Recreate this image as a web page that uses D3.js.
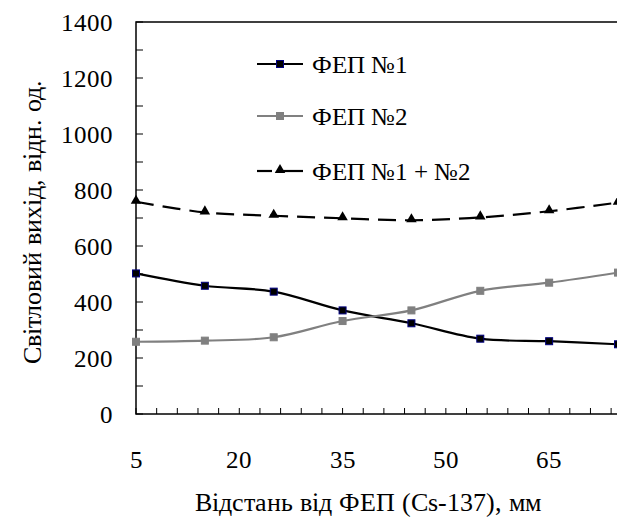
<!DOCTYPE html>
<html>
<head>
<meta charset="utf-8">
<script src="https://cdn.jsdelivr.net/npm/d3@7"></script>
<style>
  @font-face { font-family: "ChartSerif"; src: local("Liberation Serif"), local("LiberationSerif"), local("Liberation Serif Regular"), local("LiberationSerif-Regular"); }
  svg text { font-family: "ChartSerif", "Liberation Serif", "Times New Roman", serif !important; }
</style>
</head>
<body style="margin:0;background:#fff">
<svg id="light-output" width="617" height="518" style="display:block"></svg>
<script>
// Distance from the photomultiplier, mm
const distances = [5, 15, 25, 35, 45, 55, 65, 75];
// Light output, relative units
const pmt1 = [502, 458, 437, 370, 324, 269, 260, 249];
const pmt2 = [258, 262, 274, 332, 370, 440, 469, 505];
const pmtSum = [758, 720, 708, 699, 692, 702, 724, 755];

const xTickValues = [5, 20, 35, 50, 65];
const yTickValues = [0, 200, 400, 600, 800, 1000, 1200, 1400];

const seriesNames = ["ФЕП №1", "ФЕП №2", "ФЕП №1 + №2"];
const xTitle = "Відстань від ФЕП (Cs-137), мм";
const yTitle = "Світловий вихід, відн. од.";

const serifStack = '"ChartSerif", "Liberation Serif", "Times New Roman", serif';

const svg = d3.select("#light-output");
const plot = { left: 136, right: 618, top: 22, bottom: 414 };

const x = d3.scaleLinear().domain([5, 75]).range([plot.left, plot.right]);
const y = d3.scaleLinear().domain([0, 1400]).range([plot.bottom, plot.top]);

// all text lives in one group with the serif face set on it
const textLayer = svg.append("g").attr("class", "labels")
  .attr("font-family", "Liberation Serif")
  .style("font-family", serifStack, "important");

function label(g, txt, size) {
  return g.append("text")
    .attr("font-size", size)
    .attr("font-family", "Liberation Serif")
    .style("font-family", serifStack, "important")
    .attr("fill", "#000")
    .text(txt);
}

// frame of the plot area
svg.append("rect")
  .attr("x", plot.left).attr("y", plot.top)
  .attr("width", plot.right - plot.left).attr("height", plot.bottom - plot.top)
  .attr("fill", "none").attr("stroke", "#000").attr("stroke-width", 1.5);

// Y ticks every 100, pointing inward
svg.append("g").selectAll("line").data(d3.range(0, 1401, 100)).join("line")
  .attr("x1", plot.left).attr("x2", plot.left + 7)
  .attr("y1", d => y(d)).attr("y2", d => y(d))
  .attr("stroke", "#000").attr("stroke-width", 1);

// X ticks every 3 mm, pointing upward
svg.append("g").selectAll("line").data(d3.range(5, 76, 3)).join("line")
  .attr("x1", d => x(d)).attr("x2", d => x(d))
  .attr("y1", plot.bottom).attr("y2", plot.bottom - 6)
  .attr("stroke", "#000").attr("stroke-width", 1);

yTickValues.forEach(v => {
  label(textLayer, v, 25).attr("x", 113).attr("y", y(v) + 8.5).attr("text-anchor", "end");
});
xTickValues.forEach(v => {
  label(textLayer, v, 25).attr("x", x(v)).attr("y", 468).attr("text-anchor", "middle");
});

// axis titles
label(textLayer, xTitle, 25.5).attr("x", 368).attr("y", 511).attr("text-anchor", "middle");
label(textLayer, yTitle, 25.5).attr("transform", "translate(41,222) rotate(-90)").attr("text-anchor", "middle");

const line = d3.line()
  .x((d, i) => x(distances[i]))
  .y(d => y(d))
  .curve(d3.curveCatmullRom.alpha(0.5));

const series = [
  { name: seriesNames[0], values: pmt1, color: "#000", dash: null, marker: "square", fill: "#000", edge: "#000080" },
  { name: seriesNames[1], values: pmt2, color: "#808080", dash: null, marker: "square", fill: "#808080", edge: "#808080" },
  { name: seriesNames[2], values: pmtSum, color: "#000", dash: "18,9", marker: "triangle", fill: "#000", edge: "#000" }
];

svg.append("defs").append("clipPath").attr("id", "plotclip")
  .append("rect").attr("x", plot.left - 6).attr("y", plot.top).attr("width", plot.right - plot.left + 12).attr("height", plot.bottom - plot.top);

const tri = d3.symbol().type(d3.symbolTriangle).size(48);

function drawMarker(g, s, cx, cy) {
  if (s.marker === "square") {
    g.append("rect")
      .attr("x", cx - 3.5).attr("y", cy - 3.5).attr("width", 7).attr("height", 7)
      .attr("fill", s.fill).attr("stroke", s.edge).attr("stroke-width", 1);
  } else {
    g.append("path").attr("d", tri())
      .attr("transform", `translate(${cx},${cy - 1})`)
      .attr("fill", s.fill);
  }
}

const marks = svg.append("g").attr("clip-path", "url(#plotclip)");
series.forEach(s => {
  marks.append("path")
    .datum(s.values)
    .attr("d", line)
    .attr("fill", "none")
    .attr("stroke", s.color)
    .attr("stroke-width", 2.2)
    .attr("stroke-dasharray", s.dash);
  s.values.forEach((v, i) => drawMarker(marks, s, x(distances[i]), y(v)));
});

// legend
const legendRows = [64, 116, 171];
series.forEach((s, i) => {
  const ly = legendRows[i];
  const g = svg.append("g");
  if (s.dash) {
    g.append("line").attr("x1", 257).attr("x2", 272).attr("y1", ly).attr("y2", ly)
      .attr("stroke", s.color).attr("stroke-width", 2.2);
    g.append("line").attr("x1", 280).attr("x2", 303).attr("y1", ly).attr("y2", ly)
      .attr("stroke", s.color).attr("stroke-width", 2.2);
  } else {
    g.append("line").attr("x1", 257).attr("x2", 303).attr("y1", ly).attr("y2", ly)
      .attr("stroke", s.color).attr("stroke-width", 2.2);
  }
  drawMarker(g, s, 280, ly);
  label(textLayer, s.name, 25).attr("x", 312).attr("y", ly + 8.5);
});
</script>
</body>
</html>
